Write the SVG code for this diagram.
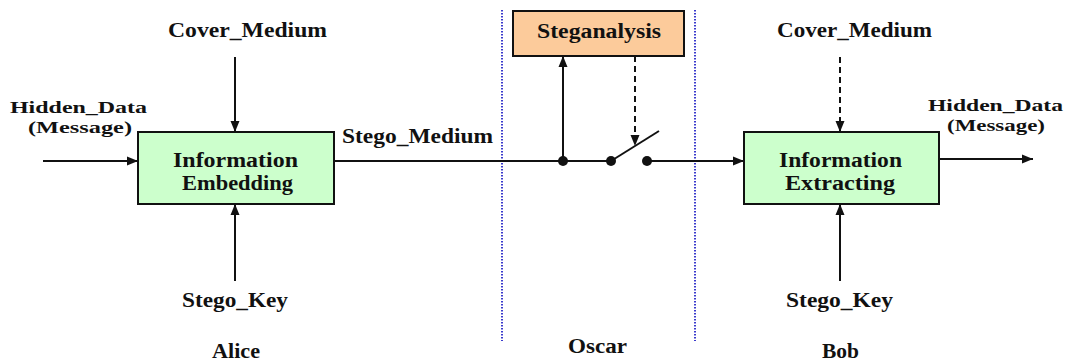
<svg xmlns="http://www.w3.org/2000/svg" width="1068" height="362" viewBox="0 0 1068 362">
<style>
  text { font-family: 'Liberation Serif', 'Times New Roman', 'DejaVu Serif', serif; font-weight: bold; font-size: 20px; fill: #111; }
  .sm { font-size: 17px; }
  .ln { stroke: #111; stroke-width: 2; fill: none; }
  .dash { stroke-dasharray: 6 4; }
  .box { stroke: #111; stroke-width: 2; }
  .green { fill: #CCFFCC; }
  .peach { fill: #FCCB9B; }
  .sep { stroke: #3A3ACC; stroke-width: 2; stroke-dasharray: 1.5 1.5; fill: none; }
</style>
<defs>
  <marker id="ah" markerUnits="userSpaceOnUse" markerWidth="12" markerHeight="10" refX="11" refY="5" orient="auto">
    <path d="M0,0.5 L11,5 L0,9.5 z" fill="#111"/>
  </marker>
</defs>
<rect width="1068" height="362" fill="#fff"/>

<g id="separators">
  <line class="sep" x1="502" y1="10" x2="502" y2="341"/>
  <line class="sep" x1="695" y1="10" x2="695" y2="341"/>
</g>

<g id="connectors">
  <line class="ln" x1="43" y1="161" x2="138" y2="161" marker-end="url(#ah)"/>
  <line class="ln" x1="235" y1="57" x2="235" y2="132" marker-end="url(#ah)"/>
  <line class="ln" x1="235" y1="281" x2="235" y2="204" marker-end="url(#ah)"/>
  <line class="ln" x1="334" y1="161" x2="611" y2="161"/>
  <line class="ln" x1="563" y1="161" x2="563" y2="56" marker-end="url(#ah)"/>
  <line class="ln dash" x1="635" y1="56" x2="635" y2="146" marker-end="url(#ah)"/>
  <line class="ln" x1="611" y1="161" x2="659" y2="131"/>
  <line class="ln" x1="647" y1="161" x2="744" y2="161" marker-end="url(#ah)"/>
  <line class="ln dash" x1="840" y1="57" x2="840" y2="132" marker-end="url(#ah)"/>
  <line class="ln" x1="840" y1="281" x2="840" y2="204" marker-end="url(#ah)"/>
  <line class="ln" x1="939" y1="159" x2="1033" y2="159" marker-end="url(#ah)"/>
  <circle cx="563" cy="161" r="5" fill="#111"/>
  <circle cx="611" cy="161" r="5" fill="#111"/>
  <circle cx="647" cy="161" r="5" fill="#111"/>
</g>

<g id="embedding" font-family="Liberation Serif, serif">
  <rect class="box green" x="138" y="132" width="196" height="72"/>
  <text x="173" y="167" textLength="125" lengthAdjust="spacingAndGlyphs">Information</text>
  <text x="182" y="190" textLength="111" lengthAdjust="spacingAndGlyphs">Embedding</text>
</g>

<g id="extracting">
  <rect class="box green" x="744" y="132" width="195" height="72"/>
  <text x="779" y="167" textLength="123" lengthAdjust="spacingAndGlyphs">Information</text>
  <text x="785" y="190" textLength="110" lengthAdjust="spacingAndGlyphs">Extracting</text>
</g>

<g id="steganalysis">
  <rect class="box peach" x="513" y="11" width="171" height="45"/>
  <text x="537" y="38" textLength="124" lengthAdjust="spacingAndGlyphs">Steganalysis</text>
</g>

<g id="labels">
  <text x="168" y="37" textLength="159" lengthAdjust="spacingAndGlyphs">Cover_Medium</text>
  <text x="777" y="37" textLength="155" lengthAdjust="spacingAndGlyphs">Cover_Medium</text>
  <text class="sm" x="10" y="113" textLength="137" lengthAdjust="spacingAndGlyphs">Hidden_Data</text>
  <text class="sm" x="28" y="133" textLength="104" lengthAdjust="spacingAndGlyphs">(Message)</text>
  <text class="sm" x="928" y="111" textLength="135" lengthAdjust="spacingAndGlyphs">Hidden_Data</text>
  <text class="sm" x="947" y="131" textLength="98" lengthAdjust="spacingAndGlyphs">(Message)</text>
  <text x="342" y="143" textLength="151" lengthAdjust="spacingAndGlyphs">Stego_Medium</text>
  <text x="182" y="307" textLength="106" lengthAdjust="spacingAndGlyphs">Stego_Key</text>
  <text x="786" y="307" textLength="107" lengthAdjust="spacingAndGlyphs">Stego_Key</text>
  <text x="212" y="358" textLength="48" lengthAdjust="spacingAndGlyphs">Alice</text>
  <text x="568" y="353" textLength="59" lengthAdjust="spacingAndGlyphs">Oscar</text>
  <text x="822" y="358" textLength="37" lengthAdjust="spacingAndGlyphs">Bob</text>
</g>
</svg>
